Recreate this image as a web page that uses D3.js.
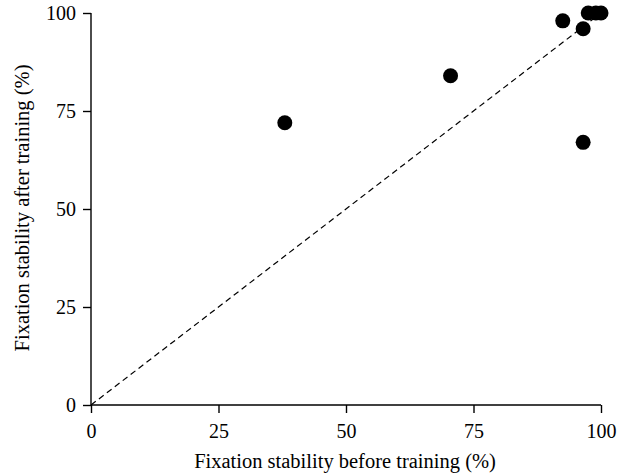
<!DOCTYPE html>
<html>
<head>
<meta charset="utf-8">
<script src="https://cdn.jsdelivr.net/npm/d3@7"></script>
<style>
  body { margin: 0; background: #fff; }
  text { font-family: "Liberation Serif", "DejaVu Serif", serif; fill: #000; }
</style>
</head>
<body>
<div id="chart"></div>
<script>
// data
var before = [38, 70.5, 96.5, 92.5, 96.5, 97.5, 99, 100];
var after = [72, 84, 67, 98, 96, 100, 100, 100];
var tickValues = [0, 25, 50, 75, 100];
var xTitle = "Fixation stability before training (%)";
var yTitle = "Fixation stability after training (%)";

var margin = { top: 13, right: 29, bottom: 70, left: 91 };
var width = 630 - margin.left - margin.right;
var height = 475 - margin.top - margin.bottom;

var svg = d3.select("#chart").append("svg")
  .attr("width", 630)
  .attr("height", 475);

var g = svg.append("g")
  .attr("transform", "translate(" + margin.left + "," + margin.top + ")");

var xScale = d3.scaleLinear().domain([0, 100]).range([0, width]);
var yScale = d3.scaleLinear().domain([0, 100]).range([height, 0]);

// identity line
g.append("line")
  .attr("x1", xScale(0)).attr("y1", yScale(0))
  .attr("x2", xScale(100)).attr("y2", yScale(100))
  .attr("stroke", "#000")
  .attr("stroke-width", 1.2)
  .attr("stroke-dasharray", "6,4");

// axes
var xAxis = d3.axisBottom(xScale).tickValues(tickValues).tickSize(8).tickPadding(11);
var yAxis = d3.axisLeft(yScale).tickValues(tickValues).tickSize(8).tickPadding(7);

var gx = g.append("g")
  .attr("transform", "translate(0," + height + ")")
  .call(xAxis);
var gy = g.append("g").call(yAxis);

[gx, gy].forEach(function (a) {
  a.selectAll("path, line").attr("stroke", "#000").attr("stroke-width", 1.4);
  a.select(".domain").attr("d", function () {
    return a === gx ? "M0,0H" + width : "M0,0V" + height;
  });
  a.selectAll("text")
    .style("font-family", "Liberation Serif, DejaVu Serif, serif")
    .style("font-size", "20px")
    .attr("fill", "#000");
});

// points
g.selectAll("circle.pt")
  .data(before.map(function (d, i) { return { x: d, y: after[i] }; }))
  .enter().append("circle")
  .attr("class", "pt")
  .attr("cx", function (d) { return xScale(d.x); })
  .attr("cy", function (d) { return yScale(d.y); })
  .attr("r", 7.5)
  .attr("fill", "#000");

// axis titles
svg.append("text")
  .attr("x", 345)
  .attr("y", 468)
  .style("text-anchor", "middle")
  .style("font-size", "20.5px")
  .text(xTitle);

svg.append("text")
  .attr("transform", "translate(29," + 208 + ") rotate(-90)")
  .style("text-anchor", "middle")
  .style("font-size", "20.5px")
  .text(yTitle);
</script>
</body>
</html>
